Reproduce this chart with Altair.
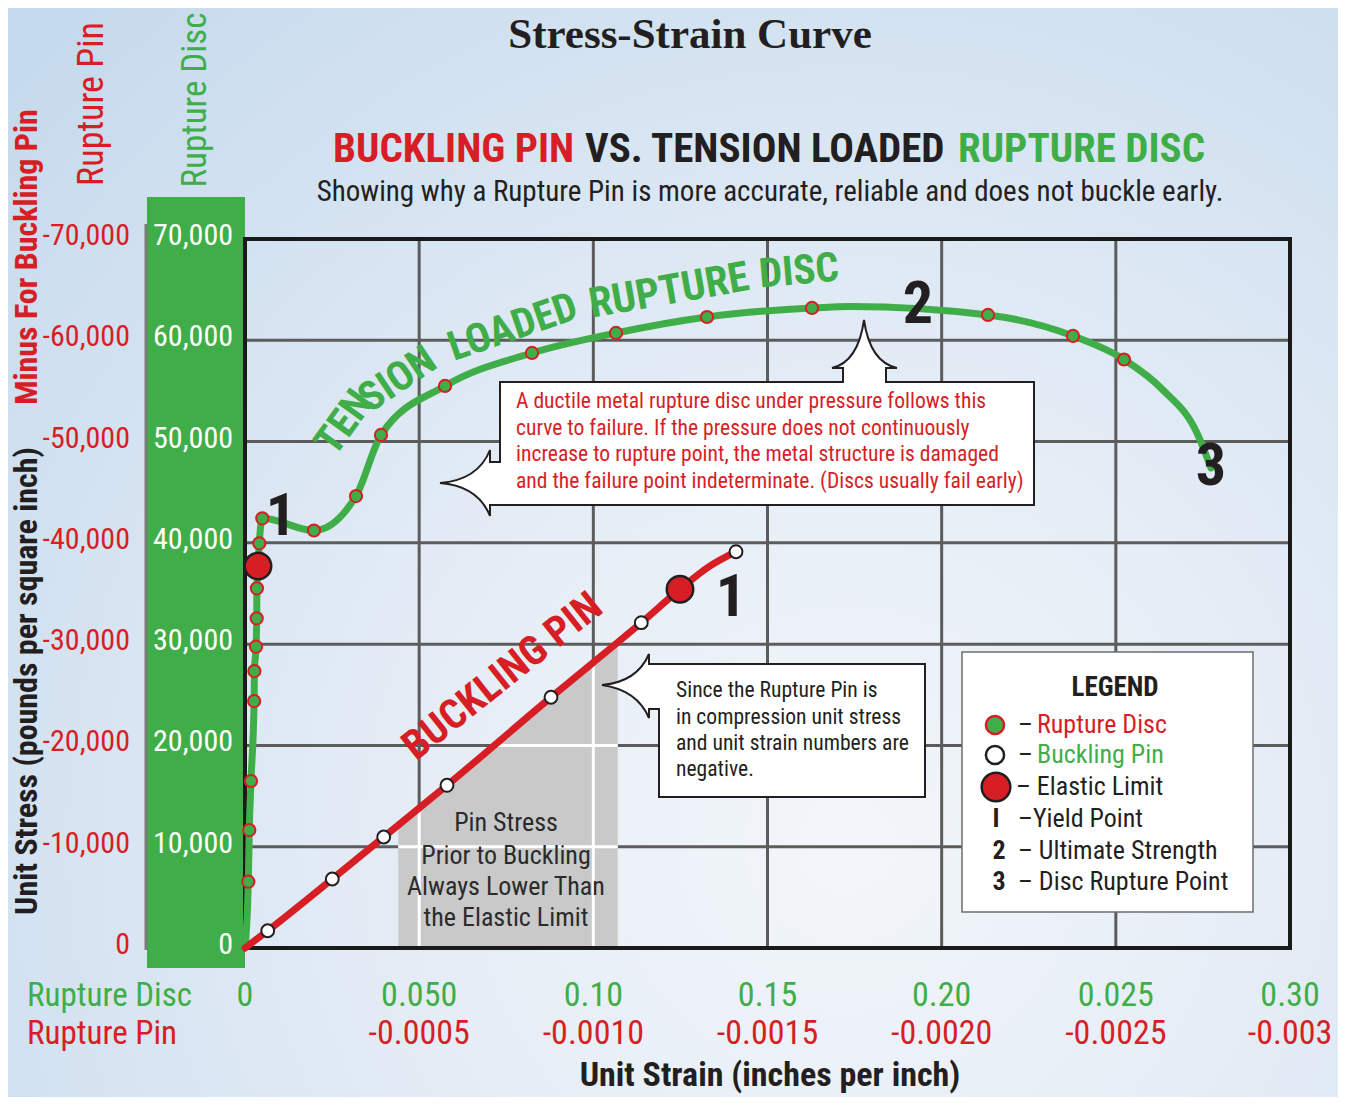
import altair as alt
import pandas as pd

GREEN = "#3fae49"
RED = "#d81e25"
INK = "#231f20"
NARROW = "Liberation Sans Narrow, Roboto Condensed, Arial Narrow, sans-serif"
SERIF = "Liberation Serif, Times New Roman, serif"

# ---------------- data ----------------
disc_strain = [0.0, 0.00095, 0.00123, 0.00172, 0.00262, 0.00270, 0.00316, 0.00336, 0.00342,
               0.00373, 0.00410, 0.00497, 0.01980, 0.03187, 0.03904, 0.05742, 0.08239,
               0.10651, 0.13263, 0.16278, 0.17368, 0.21330, 0.23770, 0.25234, 0.26354,
               0.27330, 0.27732]
disc_stress = [0, 6546, 11650, 16488, 24386, 27348, 29748, 32552, 35514,
               37715, 39955, 42423, 41220, 44626, 50649, 55487, 58745,
               60720, 62299, 63188, 63334, 62497, 60424, 58103, 55092,
               50846, 47391]
disc_marker = [0, 1, 1, 1, 1, 1, 1, 1, 1,
               0, 1, 1, 1, 1, 1, 1, 1,
               1, 1, 1, 0, 1, 1, 1, 0,
               0, 0]

pin_strain = [0.0, 0.00652, 0.02506, 0.03982, 0.05799, 0.08785, 0.11377, 0.12488, 0.13300, 0.14096]
pin_stress = [0, 1700, 6812, 10959, 16064, 24753, 32117, 35414, 37600, 39126]
pin_marker = [0, 1, 1, 1, 1, 1, 1, 0, 0, 1]

elastic_strain = [0.00373, 0.12488]
elastic_stress = [37715, 35414]

strain_ticks = [0, 0.05, 0.10, 0.15, 0.20, 0.25, 0.30]
disc_strain_labels = ["0", "0.050", "0.10", "0.15", "0.20", "0.025", "0.30"]
pin_strain_labels = ["", "-0.0005", "-0.0010", "-0.0015", "-0.0020", "-0.0025", "-0.003"]

stress_ticks = [0, 10000, 20000, 30000, 40000, 50000, 60000, 70000]
disc_stress_labels = ["0", "10,000", "20,000", "30,000", "40,000", "50,000", "60,000", "70,000"]
pin_stress_labels = ["0", "-10,000", "-20,000", "-30,000", "-40,000", "-50,000", "-60,000", "-70,000"]

shade_strain = [0.0440, 0.1070]
shade_stress = [12400, 30300]

# ---------------- geometry ----------------
W, H = 1045, 709          # plot area
OX, OY = 245, 239         # plot origin on the page
PAD = {"left": OX - 8, "top": OY - 8, "right": 48, "bottom": 149}

XS = alt.Scale(domain=[0, 0.30], nice=False, zero=False)
YS = alt.Scale(domain=[0, 70000], nice=False, zero=False)

one = pd.DataFrame({"a": [0]})


def px(v):
    return v - OX


def py(v):
    return v - OY


# background
bg = alt.Chart(one).mark_rect(
    fill=alt.RadialGradient(
        gradient="radial",
        stops=[alt.GradientStop(color="#f3f6fa", offset=0),
               alt.GradientStop(color="#e2ebf5", offset=0.45),
               alt.GradientStop(color="#c6daed", offset=1)],
        x1=0.63, y1=0.72, r1=0, x2=0.63, y2=0.72, r2=0.85)
).encode(x=alt.value(-PAD["left"]), x2=alt.value(W + PAD["right"]),
         y=alt.value(-PAD["top"]), y2=alt.value(H + PAD["bottom"]))

band = alt.Chart(one).mark_rect(fill=GREEN).encode(
    x=alt.value(px(147)), x2=alt.value(0), y=alt.value(py(197)), y2=alt.value(py(968)))

left_rule = alt.Chart(one).mark_rule(color="#7a7a7a", strokeWidth=3).encode(
    x=alt.value(px(146)), y=alt.value(py(224)), y2=alt.value(py(950)))

vgrid = alt.Chart(pd.DataFrame({"v": strain_ticks[1:-1]})).mark_rule(
    color="#5c5c5c", strokeWidth=3).encode(
    x=alt.X("v:Q", scale=XS, axis=None), y=alt.value(0), y2=alt.value(H))

hgrid = alt.Chart(pd.DataFrame({"v": stress_ticks[1:-1]})).mark_rule(
    color="#5c5c5c", strokeWidth=3).encode(
    y=alt.Y("v:Q", scale=YS, axis=None), x=alt.value(0), x2=alt.value(W))

shade = alt.Chart(pd.DataFrame({"s": shade_strain, "t": shade_stress})).mark_area(
    color="#c9c9c9", opacity=1).encode(
    x=alt.X("s:Q", scale=XS, axis=None), y=alt.Y("t:Q", scale=YS, axis=None), y2=alt.value(H))

shade_vgrid = alt.Chart(pd.DataFrame({"s": [0.05, 0.10], "t0": [0, 0], "t1": [14000, 28200]})).mark_rule(
    color="white", strokeWidth=3).encode(
    x=alt.X("s:Q", scale=XS, axis=None), y=alt.Y("t0:Q", scale=YS, axis=None), y2="t1:Q")

shade_hgrid = alt.Chart(pd.DataFrame({"t": [10000, 20000], "s0": [0.0440, 0.0708], "s1": [0.1070, 0.1070]})).mark_rule(
    color="white", strokeWidth=3).encode(
    y=alt.Y("t:Q", scale=YS, axis=None), x=alt.X("s0:Q", scale=XS, axis=None), x2="s1:Q")

border = alt.Chart(one).mark_rect(filled=False, stroke="#1a1a1a", strokeWidth=4, fill=None).encode(
    x=alt.value(0), x2=alt.value(W), y=alt.value(0), y2=alt.value(H))

disc_df = pd.DataFrame({"s": disc_strain, "t": disc_stress, "m": disc_marker,
                        "i": list(range(len(disc_strain)))})
pin_df = pd.DataFrame({"s": pin_strain, "t": pin_stress, "m": pin_marker,
                       "i": list(range(len(pin_strain)))})

disc_line = alt.Chart(disc_df).mark_line(
    color=GREEN, strokeWidth=7, interpolate="monotone", strokeCap="round").encode(
    x=alt.X("s:Q", scale=XS, axis=None), y=alt.Y("t:Q", scale=YS, axis=None), order="i:Q")

pin_line = alt.Chart(pin_df).mark_line(
    color=RED, strokeWidth=7, interpolate="monotone", strokeCap="round").encode(
    x=alt.X("s:Q", scale=XS, axis=None), y=alt.Y("t:Q", scale=YS, axis=None), order="i:Q")

disc_pts = alt.Chart(disc_df).transform_filter("datum.m == 1").mark_point(
    shape="circle", filled=True, fill=GREEN, stroke=RED, strokeWidth=2, size=150, opacity=1).encode(
    x=alt.X("s:Q", scale=XS, axis=None), y=alt.Y("t:Q", scale=YS, axis=None))

pin_pts = alt.Chart(pin_df).transform_filter("datum.m == 1").mark_point(
    shape="circle", filled=True, fill="white", stroke=INK, strokeWidth=2, size=165, opacity=1).encode(
    x=alt.X("s:Q", scale=XS, axis=None), y=alt.Y("t:Q", scale=YS, axis=None))

elastic_pts = alt.Chart(pd.DataFrame({"s": elastic_strain, "t": elastic_stress})).mark_point(
    shape="circle", filled=True, fill=RED, stroke=INK, strokeWidth=2.5, size=700, opacity=1).encode(
    x=alt.X("s:Q", scale=XS, axis=None), y=alt.Y("t:Q", scale=YS, axis=None))

# callout boxes (custom symbol paths in pixel units: size 4 -> scale 1)
CALLOUT1 = ("M0,0 L343,0 L343,-14 L332,-14 Q358,-20 364,-62 Q370,-20 397,-14 L386,-14 L386,0 "
            "L534,0 L534,123 L0,123 L-10,123 L-10,134 Q-22,104 -60,101 Q-22,98 -10,68 L-10,80 L0,80 Z")
CALLOUT2 = ("M-10,0 L266,0 L266,133 L0,133 L0,45 L-10,45 L-10,54 Q-22,26 -57,21 Q-22,18 -10,-10 Z")

callout1 = alt.Chart(one).mark_point(shape=CALLOUT1, size=4, filled=True, fill="white",
                                     stroke=INK, strokeWidth=2, opacity=1).encode(
    x=alt.value(px(500)), y=alt.value(py(382)))
callout2 = alt.Chart(one).mark_point(shape=CALLOUT2, size=4, filled=True, fill="white",
                                     stroke=INK, strokeWidth=2, opacity=1).encode(
    x=alt.value(px(659)), y=alt.value(py(664)))

legend_box = alt.Chart(one).mark_rect(fill="white", stroke="#6d6d6d", strokeWidth=1.5).encode(
    x=alt.value(px(962)), x2=alt.value(px(1253)), y=alt.value(py(652)), y2=alt.value(py(912)))

leg_g = alt.Chart(one).mark_point(shape="circle", filled=True, fill=GREEN, stroke=RED,
                                  strokeWidth=2.5, size=330, opacity=1).encode(
    x=alt.value(px(995)), y=alt.value(py(725)))
leg_w = alt.Chart(one).mark_point(shape="circle", filled=True, fill="white", stroke=INK,
                                  strokeWidth=2.5, size=330, opacity=1).encode(
    x=alt.value(px(995)), y=alt.value(py(755)))
leg_r = alt.Chart(one).mark_point(shape="circle", filled=True, fill=RED, stroke=INK,
                                  strokeWidth=2.5, size=820, opacity=1).encode(
    x=alt.value(px(996)), y=alt.value(py(787)))


def texts(rows, align="center", font=NARROW, weight="normal", baseline="middle"):
    df = pd.DataFrame(rows, columns=["text", "x", "y", "color", "size", "angle"])
    df["x"] = df["x"] - OX
    df["y"] = df["y"] - OY
    df["angle"] = df["angle"] % 360
    return alt.Chart(df).mark_text(align=align, baseline=baseline, font=font, fontWeight=weight).encode(
        x=alt.X("x:Q", scale=None, axis=None),
        y=alt.Y("y:Q", scale=None, axis=None),
        text=alt.Text("text:N"),
        color=alt.Color("color:N", scale=None, legend=None),
        size=alt.Size("size:Q", scale=None, legend=None),
        angle=alt.Angle("angle:Q", scale=None),
    )


t_title = texts([("Stress-Strain Curve", 690, 35, INK, 43, 0)], font=SERIF, weight="bold")
t_sub = texts([("BUCKLING PIN", 333, 150, RED, 41, 0),
               ("VS. TENSION LOADED", 585, 150, INK, 41, 0),
               ("RUPTURE DISC", 958, 150, GREEN, 41, 0)], align="left", weight="bold")
t_sub2 = texts([("Showing why a Rupture Pin is more accurate, reliable and does not buckle early.",
                 770, 192, INK, 29, 0)])
t_vbold = texts([("Unit Stress (pounds per square inch)", 27, 681, INK, 32, -90),
                 ("Minus For Buckling Pin", 27, 257, RED, 32, -90)], weight="bold")
t_vreg = texts([("Rupture Pin", 92, 104, RED, 36, -90),
                ("Rupture Disc", 195, 100, GREEN, 35, -90)])
t_rowtitles = texts([("Rupture Disc", 27, 996, GREEN, 33, 0),
                     ("Rupture Pin", 27, 1034, RED, 33, 0)], align="left")
t_xtitle = texts([("Unit Strain (inches per inch)", 770, 1076, INK, 34, 0)], weight="bold")
t_nums = texts([("1", 281, 517, INK, 60, 0), ("2", 918, 305, INK, 60, 0),
                ("3", 1211, 467, INK, 60, 0), ("1", 731, 598, INK, 60, 0)], weight="bold")
t_curve = texts([("TEN", 345, 423, GREEN, 41, -54),
                 ("SION", 398, 380, GREEN, 41, -34),
                 ("LOADED", 513, 328, GREEN, 41, -19),
                 ("RUPTURE", 669, 291, GREEN, 42, -10),
                 ("DISC", 799, 272, GREEN, 41, -5),
                 ("BUCKLING PIN", 503, 677, RED, 41, -38.5)], weight="bold")
t_call = texts([("A ductile metal rupture disc under pressure follows this", 516, 402, RED, 21.6, 0),
                ("curve to failure. If the pressure does not continuously", 516, 429, RED, 21.6, 0),
                ("increase to rupture point, the metal structure is damaged", 516, 455, RED, 21.6, 0),
                ("and the failure point indeterminate. (Discs usually fail early)", 516, 482, RED, 21.6, 0),
                ("Since the Rupture Pin is", 676, 691, INK, 21.6, 0),
                ("in compression unit stress", 676, 718, INK, 21.6, 0),
                ("and unit strain numbers are", 676, 744, INK, 21.6, 0),
                ("negative.", 676, 770, INK, 21.6, 0)], align="left")
t_grey = texts([("Pin Stress", 506, 823, "#2b2b2b", 26, 0),
                ("Prior to Buckling", 506, 856, "#2b2b2b", 26, 0),
                ("Always Lower Than", 506, 887, "#2b2b2b", 26, 0),
                ("the Elastic Limit", 506, 918, "#2b2b2b", 26, 0)])
t_legb = texts([("LEGEND", 1115, 688, INK, 27, 0), ("I", 996, 819, INK, 26, 0),
                ("2", 999, 851, INK, 26, 0), ("3", 999, 882, INK, 26, 0)], weight="bold")
t_leg = texts([("–", 1018, 725, INK, 26, 0), ("Rupture Disc", 1037, 725, RED, 26, 0),
               ("–", 1018, 755, INK, 26, 0), ("Buckling Pin", 1037, 755, GREEN, 26, 0),
               ("– Elastic Limit", 1016, 787, INK, 26, 0),
               ("–Yield Point", 1018, 819, INK, 26, 0),
               ("– Ultimate Strength", 1018, 851, INK, 26, 0),
               ("– Disc Rupture Point", 1018, 882, INK, 26, 0)], align="left")

# axis tick labels through the scales
xlab = pd.DataFrame({"v": strain_ticks, "g": disc_strain_labels, "r": pin_strain_labels})
x_green = alt.Chart(xlab).mark_text(font=NARROW, fontSize=34, color=GREEN, baseline="middle").encode(
    x=alt.X("v:Q", scale=XS, axis=None), y=alt.value(py(996)), text="g:N")
x_red = alt.Chart(xlab).mark_text(font=NARROW, fontSize=34, color=RED, baseline="middle").encode(
    x=alt.X("v:Q", scale=XS, axis=None), y=alt.value(py(1034)), text="r:N")

ylab = pd.DataFrame({"v": stress_ticks, "g": disc_stress_labels, "r": pin_stress_labels})
y_green = alt.Chart(ylab).mark_text(font=NARROW, fontSize=30, color="white", align="right",
                                    baseline="middle", dy=-3).encode(
    y=alt.Y("v:Q", scale=YS, axis=None), x=alt.value(px(233)), text="g:N")
y_red = alt.Chart(ylab).mark_text(font=NARROW, fontSize=30, color=RED, align="right",
                                  baseline="middle", dy=-3).encode(
    y=alt.Y("v:Q", scale=YS, axis=None), x=alt.value(px(130)), text="r:N")

chart = alt.layer(
    bg, band, left_rule, vgrid, hgrid, shade, shade_vgrid, shade_hgrid, border,
    callout1, callout2, legend_box, leg_g, leg_w, leg_r,
    disc_line, pin_line, disc_pts, pin_pts, elastic_pts,
    t_title, t_sub, t_sub2, t_vbold, t_vreg, t_rowtitles, t_xtitle, t_nums, t_curve,
    t_call, t_grey, t_legb, t_leg, x_green, x_red, y_green, y_red,
).properties(
    width=W, height=H, autosize=alt.AutoSizeParams(type="none"), padding=PAD,
    background="#d8e6f3",
).configure_view(stroke=None)

chart.save("out.html", embed_options={"renderer": "svg", "actions": False})
